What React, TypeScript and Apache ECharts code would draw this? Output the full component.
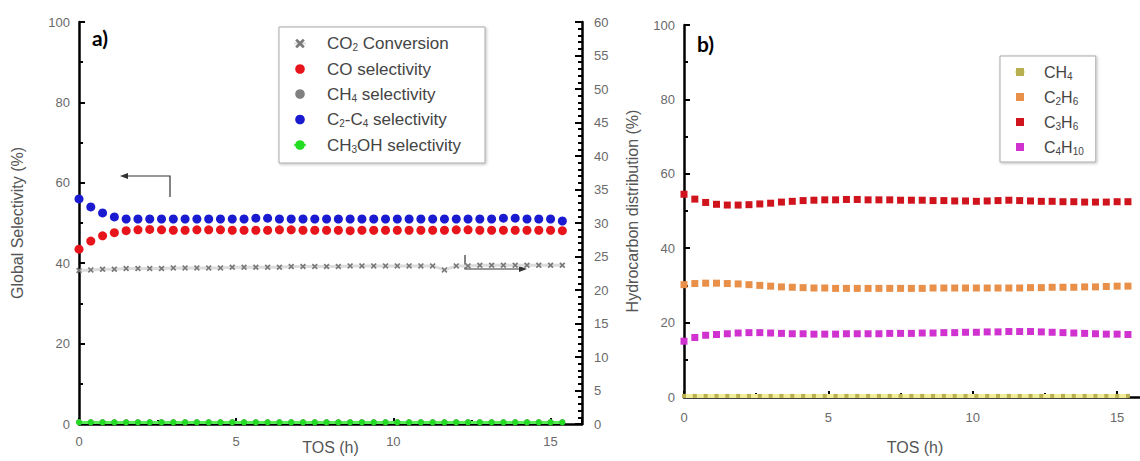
import React, { useEffect, useRef } from "react";
import * as echarts from "echarts";

// ---- data ----
const tos = [0, 0.375, 0.75, 1.125, 1.5, 1.875, 2.25, 2.625, 3, 3.375, 3.75, 4.125, 4.5, 4.875, 5.25, 5.625, 6, 6.375, 6.75, 7.125, 7.5, 7.875, 8.25, 8.625, 9, 9.375, 9.75, 10.125, 10.5, 10.875, 11.25, 11.625, 12, 12.375, 12.75, 13.125, 13.5, 13.875, 14.25, 14.625, 15, 15.375];

const co2Conversion = [22.9, 23.0, 23.1, 23.1, 23.2, 23.2, 23.2, 23.2, 23.3, 23.3, 23.3, 23.3, 23.3, 23.4, 23.4, 23.4, 23.4, 23.4, 23.5, 23.5, 23.5, 23.5, 23.5, 23.6, 23.6, 23.6, 23.6, 23.6, 23.6, 23.6, 23.6, 23.0, 23.6, 23.6, 23.7, 23.7, 23.7, 23.7, 23.7, 23.7, 23.7, 23.7];
const coSel = [43.5, 45.5, 46.8, 47.6, 48.1, 48.3, 48.4, 48.3, 48.2, 48.2, 48.3, 48.3, 48.3, 48.2, 48.2, 48.2, 48.2, 48.3, 48.3, 48.2, 48.2, 48.2, 48.2, 48.1, 48.2, 48.2, 48.2, 48.2, 48.2, 48.2, 48.2, 48.2, 48.3, 48.3, 48.2, 48.2, 48.2, 48.2, 48.2, 48.2, 48.2, 48.1];
const ch4Sel = [0.5, 0.5, 0.5, 0.5, 0.5, 0.5, 0.5, 0.5, 0.5, 0.5, 0.5, 0.5, 0.5, 0.5, 0.5, 0.5, 0.5, 0.5, 0.5, 0.5, 0.5, 0.5, 0.5, 0.5, 0.5, 0.5, 0.5, 0.5, 0.5, 0.5, 0.5, 0.5, 0.5, 0.5, 0.5, 0.5, 0.5, 0.5, 0.5, 0.5, 0.5, 0.5];
const c2c4Sel = [56, 54, 52.5, 51.5, 51, 51, 51, 51, 51, 51, 51, 51, 51, 51, 51, 51.2, 51.2, 51, 51, 51, 51, 51, 51, 51, 51, 51, 51, 51, 51, 51, 51, 51, 51, 51, 51, 51, 51.2, 51.2, 51, 51, 51, 50.5];
const ch3ohSel = [0.4, 0.4, 0.4, 0.4, 0.4, 0.4, 0.4, 0.4, 0.4, 0.4, 0.4, 0.4, 0.4, 0.4, 0.4, 0.4, 0.4, 0.4, 0.4, 0.4, 0.4, 0.4, 0.4, 0.4, 0.4, 0.4, 0.4, 0.4, 0.4, 0.4, 0.4, 0.4, 0.4, 0.4, 0.4, 0.4, 0.4, 0.4, 0.4, 0.4, 0.4, 0.4];

const hcCH4 = [0.3, 0.3, 0.3, 0.3, 0.3, 0.3, 0.3, 0.3, 0.3, 0.3, 0.3, 0.3, 0.3, 0.3, 0.3, 0.3, 0.3, 0.3, 0.3, 0.3, 0.3, 0.3, 0.3, 0.3, 0.3, 0.3, 0.3, 0.3, 0.3, 0.3, 0.3, 0.3, 0.3, 0.3, 0.3, 0.3, 0.3, 0.3, 0.3, 0.3, 0.3, 0.3];
const hcC2H6 = [30.2, 30.5, 30.6, 30.6, 30.5, 30.4, 30.2, 30, 29.8, 29.6, 29.5, 29.4, 29.3, 29.3, 29.2, 29.2, 29.2, 29.2, 29.2, 29.2, 29.2, 29.2, 29.2, 29.3, 29.3, 29.3, 29.3, 29.3, 29.3, 29.3, 29.3, 29.3, 29.4, 29.4, 29.5, 29.5, 29.5, 29.6, 29.6, 29.7, 29.8, 29.8];
const hcC3H6 = [54.5, 53.2, 52.3, 51.8, 51.6, 51.6, 51.7, 51.9, 52.1, 52.4, 52.6, 52.8, 52.9, 53, 53, 53.1, 53.1, 53, 53, 53, 52.9, 52.9, 52.9, 52.8, 52.8, 52.7, 52.7, 52.6, 52.7, 52.8, 52.9, 52.8, 52.7, 52.6, 52.6, 52.5, 52.5, 52.4, 52.4, 52.4, 52.5, 52.5];
const hcC4H10 = [15, 16, 16.6, 16.8, 17, 17.2, 17.3, 17.3, 17.2, 17.1, 17, 17, 16.9, 16.9, 16.9, 17, 17, 17, 17, 17.1, 17.1, 17.1, 17.2, 17.2, 17.3, 17.3, 17.4, 17.4, 17.5, 17.5, 17.6, 17.6, 17.6, 17.5, 17.4, 17.3, 17.2, 17.1, 17, 16.9, 16.9, 16.8];

const xTicks = [0, 5, 10, 15];

const legendLabelsA: Record<string, string> = {
  co2: "CO{s|2} Conversion",
  co: "CO selectivity",
  ch4: "CH{s|4} selectivity",
  c2c4: "C{s|2}-C{s|4} selectivity",
  ch3oh: "CH{s|3}OH selectivity",
};
const legendLabelsB: Record<string, string> = {
  hch4: "CH{s|4}",
  hc2h6: "C{s|2}H{s|6}",
  hc3h6: "C{s|3}H{s|6}",
  hc4h10: "C{s|4}H{s|10}",
};

const FONT = "Liberation Sans";
const AXIS = "#000000";
const LABEL = "#6a6a6a";
const CROSS = "path://M2,0 L5,3 L8,0 L10,2 L7,5 L10,8 L8,10 L5,7 L2,10 L0,8 L3,5 L0,2 Z";

function pts(ys: number[]) {
  return tos.map((t, i) => [t, ys[i]]);
}

function axisStyle(tickLen: number, minorLen: number, minorSplit: number) {
  return {
    axisLine: { show: true, onZero: false, lineStyle: { color: AXIS, width: 2.5, opacity: 1 } },
    axisTick: { show: true, inside: true, length: tickLen, lineStyle: { color: AXIS, width: 2, opacity: 1 } },
    minorTick: { show: true, splitNumber: minorSplit, length: minorLen, lineStyle: { color: AXIS, width: 2, opacity: 1 } },
    splitLine: { show: false },
    minorSplitLine: { show: false },
  };
}

export default function App() {
  const ref = useRef<HTMLDivElement>(null);
  useEffect(() => {
    if (!ref.current) return;
    const chart = echarts.init(ref.current, null, { renderer: "svg" });
    const axisLabel = { color: LABEL, fontFamily: FONT, fontSize: 13 };
    const xLabelFmt = (v: number) => (xTicks.indexOf(v) >= 0 ? String(v) : "");
    const nameStyle = { color: "#555", fontFamily: FONT, fontSize: 16 };
    chart.setOption({
      animation: false,
      backgroundColor: "#fff",
      grid: [
        { left: 79, top: 22, width: 503, height: 402, outerBoundsMode: "none", containLabel: false },
        { left: 684, top: 25, width: 462, height: 372, outerBoundsMode: "none", containLabel: false },
      ],
      xAxis: [
        {
          type: "value", gridIndex: 0, min: 0, max: 16, interval: 5,
          name: "TOS (h)", nameLocation: "middle", nameGap: 15, nameMoveOverlap: false, nameTextStyle: nameStyle,
          ...axisStyle(6, 4, 2),
          axisLabel: { ...axisLabel, margin: 11, formatter: xLabelFmt, showMaxLabel: false },
        },
        {
          type: "value", gridIndex: 1, min: 0, max: 16, interval: 5,
          name: "TOS (h)", nameLocation: "middle", nameGap: 42, nameMoveOverlap: false, nameTextStyle: nameStyle,
          ...axisStyle(6, 4, 2),
          axisLabel: { ...axisLabel, margin: 14, formatter: xLabelFmt, showMaxLabel: false },
        },
      ],
      yAxis: [
        {
          type: "value", gridIndex: 0, min: 0, max: 100, interval: 20, position: "left",
          name: "Global Selectivity (%)", nameLocation: "middle", nameGap: 54, nameRotate: 90, nameMoveOverlap: false, nameTextStyle: nameStyle,
          ...axisStyle(6, 4, 2),
          axisLabel: { ...axisLabel, margin: 9 },
        },
        {
          type: "value", gridIndex: 0, min: 0, max: 60, interval: 5, position: "right",
          ...axisStyle(7, 4, 5),
          axisLabel: { ...axisLabel, margin: 12 },
        },
        {
          type: "value", gridIndex: 1, min: 0, max: 100, interval: 20,
          name: "Hydrocarbon distribution (%)", nameLocation: "middle", nameGap: 44, nameRotate: 90, nameMoveOverlap: false, nameTextStyle: nameStyle,
          ...axisStyle(6, 4, 2),
          axisLabel: { ...axisLabel, margin: 9 },
        },
      ],
      legend: [
        {
          data: ["co2", "co", "ch4", "c2c4", "ch3oh"],
          orient: "vertical", left: 279, top: 27,
          itemWidth: 12, itemHeight: 12, itemGap: 8,
          padding: [8, 24, 9, 14],
          borderColor: "#aaa", borderWidth: 1,
          shadowColor: "rgba(0,0,0,0.25)", shadowBlur: 3, shadowOffsetX: 1, shadowOffsetY: 1,
          backgroundColor: "#fff",
          formatter: (n: string) => legendLabelsA[n],
          textStyle: {
            color: "#444", fontFamily: FONT, fontSize: 17, padding: [0, 0, 0, 16],
            rich: { s: { fontSize: 10, fontFamily: FONT, color: "#444", padding: [8, 0, 0, 0] } },
          },
        },
        {
          data: ["hch4", "hc2h6", "hc3h6", "hc4h10"],
          orient: "vertical", left: 1000, top: 56,
          itemWidth: 10, itemHeight: 10, itemGap: 8,
          padding: [8, 12, 6, 14],
          borderColor: "#aaa", borderWidth: 1,
          shadowColor: "rgba(0,0,0,0.25)", shadowBlur: 3, shadowOffsetX: 1, shadowOffsetY: 1,
          backgroundColor: "#fff",
          formatter: (n: string) => legendLabelsB[n],
          textStyle: {
            color: "#444", fontFamily: FONT, fontSize: 16, padding: [0, 0, 0, 14],
            rich: { s: { fontSize: 10, fontFamily: FONT, color: "#444", padding: [8, 0, 0, 0] } },
          },
        },
      ],
      series: [
        {
          name: "co2", type: "line", xAxisIndex: 0, yAxisIndex: 1, data: pts(co2Conversion),
          symbol: CROSS, symbolSize: 6, itemStyle: { color: "#7a7a7a" },
          lineStyle: { color: "#dcdcdc", width: 3 },
        },
        {
          name: "ch4", type: "line", xAxisIndex: 0, yAxisIndex: 0, data: pts(ch4Sel),
          symbol: "circle", symbolSize: 6, itemStyle: { color: "#808080" }, lineStyle: { width: 0 },
        },
        {
          name: "co", type: "line", xAxisIndex: 0, yAxisIndex: 0, data: pts(coSel),
          symbol: "circle", symbolSize: 9, itemStyle: { color: "#e8141c" }, lineStyle: { width: 0 },
        },
        {
          name: "c2c4", type: "line", xAxisIndex: 0, yAxisIndex: 0, data: pts(c2c4Sel),
          symbol: "circle", symbolSize: 9, itemStyle: { color: "#1a1ad0" }, lineStyle: { width: 0 },
        },
        {
          name: "ch3oh", type: "line", xAxisIndex: 0, yAxisIndex: 0, data: pts(ch3ohSel),
          symbol: "circle", symbolSize: 6, itemStyle: { color: "#22dd22" },
          lineStyle: { color: "#55ee55", width: 3 },
        },
        {
          name: "hch4", type: "line", xAxisIndex: 1, yAxisIndex: 2, data: pts(hcCH4),
          symbol: "rect", symbolSize: 4, itemStyle: { color: "#b8b050" },
          lineStyle: { color: "#f0ec98", width: 4 },
        },
        {
          name: "hc2h6", type: "line", xAxisIndex: 1, yAxisIndex: 2, data: pts(hcC2H6),
          symbol: "rect", symbolSize: 7, itemStyle: { color: "#e8904a" }, lineStyle: { width: 0 },
        },
        {
          name: "hc3h6", type: "line", xAxisIndex: 1, yAxisIndex: 2, data: pts(hcC3H6),
          symbol: "rect", symbolSize: 7, itemStyle: { color: "#d0141e" }, lineStyle: { width: 0 },
        },
        {
          name: "hc4h10", type: "line", xAxisIndex: 1, yAxisIndex: 2, data: pts(hcC4H10),
          symbol: "rect", symbolSize: 7, itemStyle: { color: "#d032d0" }, lineStyle: { width: 0 },
        },
      ],
      graphic: [
        { type: "text", left: 92, top: 27, style: { text: "a)", font: "bold 21px Lato", fill: "#000" } },
        { type: "text", left: 697, top: 33, style: { text: "b)", font: "bold 21px Lato", fill: "#000" } },
        { type: "polyline", shape: { points: [[170, 197], [170, 176], [126, 176]] }, style: { stroke: "#333", lineWidth: 1.2, fill: "none" } },
        { type: "polygon", shape: { points: [[120, 176], [128, 173], [128, 179]] }, style: { fill: "#333" } },
        { type: "polyline", shape: { points: [[465, 255], [465, 269], [521, 269]] }, style: { stroke: "#333", lineWidth: 1.2, fill: "none" } },
        { type: "polygon", shape: { points: [[527, 269], [519, 266], [519, 272]] }, style: { fill: "#333" } },
      ],
    });
    return () => chart.dispose();
  }, []);
  return (
    <div
      ref={ref}
      style={{ position: "fixed", left: 0, top: 0, width: 1140, height: 461, background: "#fff" }}
    />
  );
}
